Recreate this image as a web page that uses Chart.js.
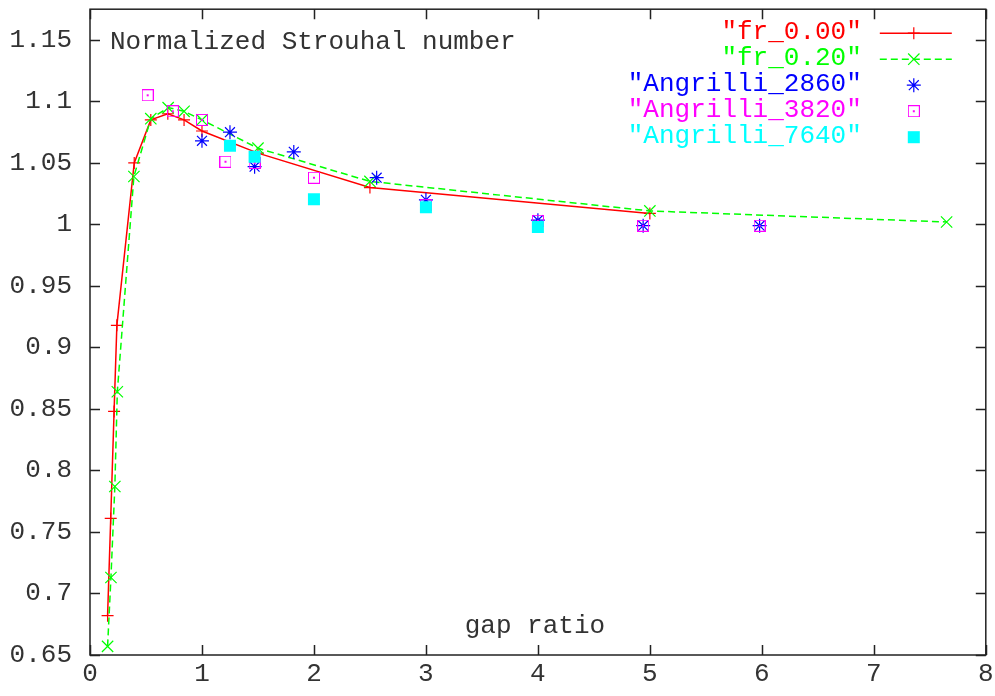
<!DOCTYPE html>
<html>
<head>
<meta charset="utf-8">
<script src="https://cdn.jsdelivr.net/npm/chart.js@4"></script>
<style>
  html, body { margin: 0; padding: 0; background: #fff; }
  #wrap { width: 995px; height: 696px; }
</style>
</head>
<body>
<div id="wrap"><canvas id="strouhal" width="995" height="696"></canvas></div>
<script>
// --- data ---
const fr000X = [0.157, 0.185, 0.215, 0.24, 0.395, 0.543, 0.695, 0.84, 1.0, 1.5, 2.5, 5.0];
const fr000Y = [0.682, 0.761, 0.848, 0.918, 1.050, 1.085, 1.090, 1.085, 1.076, 1.058, 1.030, 1.009];

const fr020X = [0.157, 0.187, 0.222, 0.244, 0.392, 0.543, 0.698, 0.84, 1.0, 1.5, 2.5, 5.0, 7.65];
const fr020Y = [0.657, 0.713, 0.787, 0.864, 1.039, 1.086, 1.095, 1.092, 1.085, 1.062, 1.035, 1.011, 1.002];

const ang2860X = [1.0, 1.25, 1.47, 1.82, 2.56, 3.0, 4.0, 4.94, 5.98];
const ang2860Y = [1.068, 1.075, 1.047, 1.059, 1.038, 1.020, 1.0035, 0.999, 0.999];

const ang3820X = [0.515, 0.74, 1.0, 1.21, 1.47, 2.0, 3.0, 4.0, 4.94, 5.98];
const ang3820Y = [1.105, 1.092, 1.085, 1.051, 1.050, 1.038, 1.016, 1.003, 0.999, 0.999];

const ang7640X = [1.25, 1.47, 2.0, 3.0, 4.0];
const ang7640Y = [1.064, 1.055, 1.0205, 1.014, 0.998];

const xTickValues = [0, 1, 2, 3, 4, 5, 6, 7, 8];
const xTickLabels = ['0', '1', '2', '3', '4', '5', '6', '7', '8'];
const yTickValues = [0.65, 0.7, 0.75, 0.8, 0.85, 0.9, 0.95, 1.0, 1.05, 1.1, 1.15];
const yTickLabels = ['0.65', '0.7', '0.75', '0.8', '0.85', '0.9', '0.95', '1', '1.05', '1.1', '1.15'];

const FONT = '"Liberation Mono", "DejaVu Sans Mono", monospace';
const TEXT = '#333';

const pts = (xs, ys) => xs.map((x, i) => ({ x, y: ys[i] }));

// open square with a dot in the middle
function boxDot(color) {
  const c = document.createElement('canvas');
  c.width = 12; c.height = 12;
  const g = c.getContext('2d');
  g.strokeStyle = color;
  g.lineWidth = 1;
  g.strokeRect(0.5, 0.5, 11, 11);
  g.fillStyle = color;
  g.fillRect(5, 5, 2, 2);
  return c;
}

// border + inward ticks on all four sides, title, xlabel and key
const framePlugin = {
  id: 'frame',
  beforeDatasetsDraw(chart) {
    const { ctx, chartArea: a, scales } = chart;
    ctx.save();
    ctx.strokeStyle = '#222';
    ctx.lineWidth = 1.5;
    ctx.strokeRect(a.left, a.top, a.right - a.left, a.bottom - a.top);
    ctx.beginPath();
    xTickValues.forEach(v => {
      const px = Math.round(scales.x.getPixelForValue(v)) + 0.5;
      ctx.moveTo(px, a.bottom); ctx.lineTo(px, a.bottom - 10);
      ctx.moveTo(px, a.top); ctx.lineTo(px, a.top + 10);
    });
    yTickValues.forEach(v => {
      const py = Math.round(scales.y.getPixelForValue(v)) + 0.5;
      ctx.moveTo(a.left, py); ctx.lineTo(a.left + 10, py);
      ctx.moveTo(a.right, py); ctx.lineTo(a.right - 10, py);
    });
    ctx.stroke();
    ctx.restore();
  },
  afterDraw(chart) {
    const { ctx, chartArea: a } = chart;
    ctx.save();
    ctx.font = '26px ' + FONT;
    ctx.fillStyle = TEXT;
    ctx.textBaseline = 'middle';
    ctx.textAlign = 'left';
    ctx.fillText('Normalized Strouhal number', a.left + 20, a.top + 33);
    ctx.textAlign = 'center';
    ctx.fillText('gap ratio', (a.left + a.right) / 2 - 3, a.bottom - 29);

    // key, top right
    ctx.textAlign = 'right';
    chart.data.datasets.forEach((ds, i) => {
      const y = a.top + 23 + i * 26;
      ctx.fillStyle = ds.borderColor;
      ctx.strokeStyle = ds.borderColor;
      ctx.fillText(ds.label, a.right - 124, y);
      if (ds.showLine) {
        ctx.save();
        ctx.lineWidth = ds.borderWidth;
        ctx.setLineDash(ds.borderDash || []);
        ctx.beginPath();
        ctx.moveTo(a.right - 106, y + 1);
        ctx.lineTo(a.right - 34, y + 1);
        ctx.stroke();
        ctx.restore();
      }
      ctx.save();
      ctx.fillStyle = ds.pointBackgroundColor;
      ctx.strokeStyle = ds.pointBorderColor;
      ctx.lineWidth = ds.pointBorderWidth;
      Chart.helpers.drawPoint(ctx, {
        pointStyle: ds.pointStyle, radius: ds.pointRadius,
        rotation: 0, borderWidth: ds.pointBorderWidth
      }, a.right - 72, y + 1);
      ctx.restore();
    });
    ctx.restore();
  }
};

new Chart(document.getElementById('strouhal'), {
  type: 'scatter',
  data: {
    datasets: [
      {
        label: '"fr_0.00"', data: pts(fr000X, fr000Y), showLine: true, order: 5,
        borderColor: '#ff0000', borderWidth: 1.5,
        pointStyle: 'cross', pointRadius: 6, pointBorderWidth: 1.2,
        pointBorderColor: '#ff0000', pointBackgroundColor: '#ff0000'
      },
      {
        label: '"fr_0.20"', data: pts(fr020X, fr020Y), showLine: true, order: 4,
        borderColor: '#00ff00', borderWidth: 1.5, borderDash: [7, 4],
        pointStyle: 'crossRot', pointRadius: 8, pointBorderWidth: 1.2,
        pointBorderColor: '#00ff00', pointBackgroundColor: '#00ff00'
      },
      {
        label: '"Angrilli_2860"', data: pts(ang2860X, ang2860Y), showLine: false, order: 3,
        borderColor: '#0000ff',
        pointStyle: 'star', pointRadius: 7, pointBorderWidth: 1.2,
        pointBorderColor: '#0000ff', pointBackgroundColor: '#0000ff'
      },
      {
        label: '"Angrilli_3820"', data: pts(ang3820X, ang3820Y), showLine: false, order: 2,
        borderColor: '#ff00ff',
        pointStyle: boxDot('#ff00ff'), pointRadius: 6, pointBorderWidth: 1,
        pointBorderColor: '#ff00ff', pointBackgroundColor: '#ff00ff'
      },
      {
        label: '"Angrilli_7640"', data: pts(ang7640X, ang7640Y), showLine: false, order: 1,
        borderColor: '#00ffff',
        pointStyle: 'rect', pointRadius: 8.5, pointBorderWidth: 0,
        pointBorderColor: '#00ffff', pointBackgroundColor: '#00ffff'
      }
    ]
  },
  options: {
    responsive: false,
    animation: false,
    devicePixelRatio: 1,
    layout: { padding: { left: 0, right: 7, top: 5, bottom: 0 } },
    plugins: { legend: { display: false }, tooltip: { enabled: false } },
    elements: { line: { tension: 0 } },
    scales: {
      x: {
        type: 'linear', min: 0, max: 8,
        afterBuildTicks: s => { s.ticks = xTickValues.map(v => ({ value: v })); },
        afterFit: s => { s.height = 41; s.paddingLeft = 0; s.paddingRight = 0; },
        ticks: {
          font: { family: FONT, size: 26 }, color: TEXT, padding: 4,
          maxRotation: 0, autoSkip: false,
          callback: (v, i) => xTickLabels[i]
        },
        grid: { display: false, drawTicks: false },
        border: { display: false }
      },
      y: {
        type: 'linear', min: 0.65, max: 1.175,
        afterBuildTicks: s => { s.ticks = yTickValues.map(v => ({ value: v })); },
        afterFit: s => { s.width = 90; s.paddingTop = 0; s.paddingBottom = 0; },
        ticks: {
          font: { family: FONT, size: 26 }, color: TEXT, padding: 18,
          autoSkip: false,
          callback: (v, i) => yTickLabels[i]
        },
        grid: { display: false, drawTicks: false },
        border: { display: false }
      }
    }
  },
  plugins: [framePlugin]
});
</script>
</body>
</html>
